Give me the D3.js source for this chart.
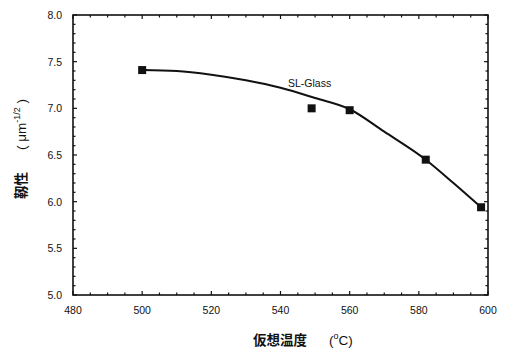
<!DOCTYPE html>
<html><head><meta charset="utf-8">
<script src="https://cdn.jsdelivr.net/npm/d3@7"></script>
<style>
html,body{margin:0;padding:0;background:#fff;}
svg{display:block;}
text{font-family:"Liberation Sans",Arial,sans-serif;fill:#111;}
</style></head>
<body><svg id="c" width="508" height="353"></svg>
<script>
// Measured points
const tempX = [500, 549, 560, 582, 598];
const toughY = [7.41, 7.00, 6.98, 6.45, 5.94];
// Fitted curve
const curveX = [500, 510, 520, 530, 540, 550, 560, 570, 582, 590, 598];
const curveY = [7.41, 7.40, 7.36, 7.30, 7.22, 7.11, 6.99, 6.75, 6.45, 6.20, 5.94];
const xTicks = [480, 500, 520, 540, 560, 580, 600];
const yTicks = [5.0, 5.5, 6.0, 6.5, 7.0, 7.5, 8.0];
const seriesName = "SL-Glass";

const svg = d3.select("#c");
const L = 73, R = 488, T = 15, B = 295;
const x = d3.scaleLinear().domain([480, 600]).range([L, R]);
const y = d3.scaleLinear().domain([5, 8]).range([B, T]);

const g = svg.append("g");
// minor ticks
const xMinor = d3.range(480, 600.1, 5);
const yMinor = d3.range(5, 8.001, 0.1);
const tickG = g.append("g").attr("stroke", "#111").attr("stroke-width", 1.2);
xMinor.forEach(v => {
  const major = Math.abs(v % 20) < 1e-6;
  const len = major ? 4 : 2.5;
  tickG.append("line").attr("x1", x(v)).attr("x2", x(v)).attr("y1", B).attr("y2", B - len);
  tickG.append("line").attr("x1", x(v)).attr("x2", x(v)).attr("y1", T).attr("y2", T + len);
});
yMinor.forEach(v => {
  const major = Math.abs(Math.round(v * 10) % 5) === 0;
  const len = major ? 4 : 2.5;
  tickG.append("line").attr("y1", y(v)).attr("y2", y(v)).attr("x1", L).attr("x2", L + len);
  tickG.append("line").attr("y1", y(v)).attr("y2", y(v)).attr("x1", R).attr("x2", R - len);
});

// frame
g.append("rect").attr("x", L).attr("y", T).attr("width", R - L).attr("height", B - T)
  .attr("fill", "none").attr("stroke", "#111").attr("stroke-width", 1.6);

// tick labels
g.selectAll(".xl").data(xTicks).enter().append("text")
  .attr("x", d => x(d)).attr("y", 314).attr("text-anchor", "middle")
  .attr("font-size", 10.5).text(d => d);
g.selectAll(".yl").data(yTicks).enter().append("text")
  .attr("x", 62).attr("y", d => y(d) + 4).attr("text-anchor", "end")
  .attr("font-size", 10.5).text(d => d.toFixed(1));

// curve
const pts = curveX.map((v, i) => [v, curveY[i]]);
g.append("path").datum(pts)
  .attr("d", d3.line().x(d => x(d[0])).y(d => y(d[1])).curve(d3.curveMonotoneX))
  .attr("fill", "none").attr("stroke", "#111").attr("stroke-width", 2);

// markers
g.selectAll(".m").data(tempX.map((v, i) => [v, toughY[i]])).enter().append("rect")
  .attr("x", d => x(d[0]) - 4).attr("y", d => y(d[1]) - 4)
  .attr("width", 8).attr("height", 8).attr("fill", "#111");

// series label
g.append("text").attr("x", 288).attr("y", 87).attr("font-size", 10.5).text(seriesName);

// axis titles
const xt = g.append("text").attr("x", 253).attr("y", 345).attr("font-size", 13.5);
xt.append("tspan").attr("font-family", "Noto Sans CJK JP").attr("font-weight", "bold").text("仮想温度");
xt.append("tspan").attr("dx", 22).text("(");
xt.append("tspan").attr("dy", -6).attr("font-size", 9).text("o");
xt.append("tspan").attr("dy", 6).text("C)");

const yt = g.append("text").attr("transform", "translate(26,199) rotate(-90)").attr("font-size", 13.5);
yt.append("tspan").attr("font-family", "Noto Sans CJK JP").attr("font-weight", "bold").text("靱性");
yt.append("tspan").attr("dx", 22).text("( μm");
yt.append("tspan").attr("dy", -6).attr("font-size", 9).text("-1/2");
yt.append("tspan").attr("dy", 6).text(" )");
</script></body></html>
